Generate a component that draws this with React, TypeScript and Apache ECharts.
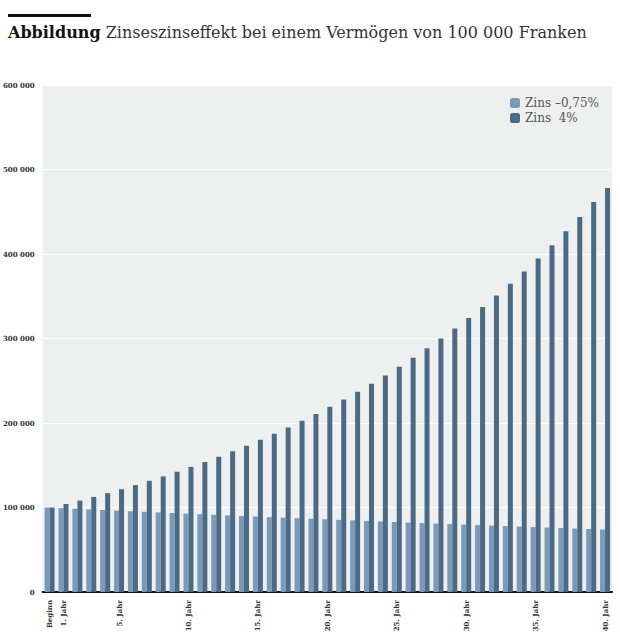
import React from 'react';
import * as echarts from 'echarts';

const categories = ['Beginn', ...Array.from({ length: 40 }, (_, i) => `${i + 1}. Jahr`)];
const labelled = ['Beginn', '1. Jahr', '5. Jahr', '10. Jahr', '15. Jahr', '20. Jahr', '25. Jahr', '30. Jahr', '35. Jahr', '40. Jahr'];

const negativeRate = [
  100000, 99250, 98506, 97767, 97034, 96306, 95584, 94867, 94155, 93449, 92748,
  92052, 91362, 90677, 89997, 89322, 88652, 87987, 87327, 86672, 86022,
  85377, 84737, 84101, 83470, 82844, 82223, 81606, 80994, 80387, 79784,
  79186, 78592, 78002, 77417, 76837, 76260, 75688, 75121, 74557, 73998,
];
const positiveRate = [
  100000, 104000, 108160, 112486, 116986, 121665, 126532, 131593, 136857, 142331, 148024,
  153945, 160103, 166507, 173168, 180094, 187298, 194790, 202582, 210685, 219112,
  227877, 236992, 246472, 256330, 266584, 277247, 288337, 299870, 311865, 324340,
  337313, 350806, 364838, 379432, 394609, 410393, 426809, 443881, 461637, 478000,
];

const serif = '"DejaVu Serif", "Liberation Serif", serif';

export default function App() {
  const ref = React.useRef<HTMLDivElement>(null);

  React.useEffect(() => {
    if (!ref.current) return;
    const chart = echarts.init(ref.current, null, { renderer: 'svg' });
    chart.setOption({
      animation: false,
      graphic: [
        { type: 'rect', shape: { x: 8, y: 14, width: 83, height: 3 }, style: { fill: '#111' } },
        {
          type: 'text', x: 8, y: 24,
          style: {
            text: '{b|Abbildung} Zinseszinseffekt bei einem Vermögen von 100 000 Franken',
            font: `300 16px ${serif}`, fill: '#333',
            rich: { b: { font: `bold 16px ${serif}`, fill: '#111' } },
          },
        },
      ],
      legend: {
        right: 16, top: 92, orient: 'vertical', itemWidth: 10, itemHeight: 10, itemGap: 3,
        textStyle: { fontFamily: serif, fontSize: 12, color: '#555', fontWeight: 300 },
        data: ['Zins –0,75%', 'Zins  4%'],
      },
      grid: {
        left: 42, right: 8, top: 85, bottom: 52, show: true,
        backgroundColor: '#eeefef', borderWidth: 0,
      },
      xAxis: {
        type: 'category', data: categories,
        axisLine: { lineStyle: { color: '#111', width: 2 } },
        axisTick: { alignWithLabel: true, interval: (i: number) => labelled.includes(categories[i]), lineStyle: { color: '#111' }, length: 5 },
        axisLabel: {
          interval: (i: number) => labelled.includes(categories[i]),
          rotate: 90, fontFamily: serif, fontSize: 7, fontWeight: 'bold', color: '#333', margin: 8,
        },
      },
      yAxis: {
        type: 'value', min: 0, max: 600000, interval: 100000,
        axisLabel: {
          fontFamily: serif, fontSize: 7, fontWeight: 'bold', color: '#333',
          formatter: (v: number) => (v === 0 ? '0' : `${v / 1000} 000`),
        },
        splitLine: { lineStyle: { color: '#ffffff', width: 1 } },
      },
      series: [
        { name: 'Zins –0,75%', type: 'bar', data: negativeRate, barWidth: 5, barGap: '0%', itemStyle: { color: '#7b9aba' } },
        { name: 'Zins  4%', type: 'bar', data: positiveRate, barWidth: 5, itemStyle: { color: '#4d6a84' } },
      ],
    });
    return () => chart.dispose();
  }, []);

  return <div ref={ref} style={{ position: 'absolute', left: 0, top: 0, width: 620, height: 644 }} />;
}
